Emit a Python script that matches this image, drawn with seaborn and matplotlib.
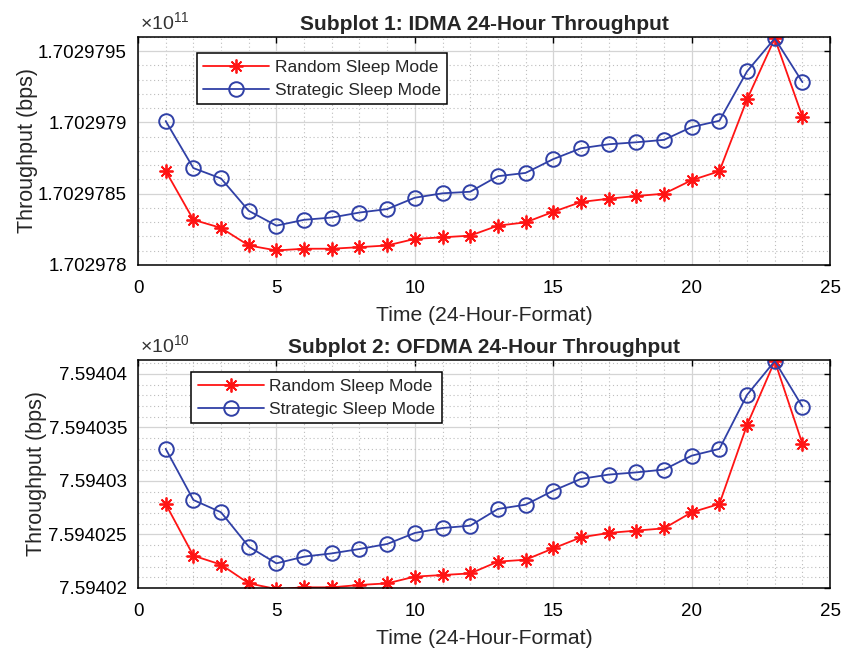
import matplotlib
matplotlib.use("Agg")
import matplotlib.pyplot as plt
from matplotlib.ticker import MultipleLocator, AutoMinorLocator, FuncFormatter
import seaborn as sns
import pandas as pd

# Hour of the day (1..24)
hours = list(range(1, 25))

# IDMA throughput (bps)
idma_random = [1.70297866e11, 1.702978317e11, 1.70297826e11, 1.702978137e11, 1.702978102e11,
               1.702978114e11, 1.702978114e11, 1.702978125e11, 1.702978137e11, 1.702978183e11,
               1.702978194e11, 1.702978206e11, 1.702978276e11, 1.702978299e11, 1.702978373e11,
               1.702978442e11, 1.702978465e11, 1.702978484e11, 1.7029785e11, 1.702978595e11,
               1.702978658e11, 1.702979162e11, 1.70297959e11, 1.70297904e11]
idma_strategic = [1.70297901e11, 1.70297868e11, 1.702978607e11, 1.70297838e11, 1.702978276e11,
                  1.702978317e11, 1.702978333e11, 1.702978368e11, 1.702978392e11, 1.702978472e11,
                  1.702978503e11, 1.702978514e11, 1.702978623e11, 1.702978646e11, 1.702978743e11,
                  1.702978819e11, 1.702978847e11, 1.702978861e11, 1.702978878e11, 1.702978968e11,
                  1.702979012e11, 1.702979359e11, 1.70297959e11, 1.702979283e11]

# OFDMA throughput (bps)
ofdma_random = [7.59402785e10, 7.59402302e10, 7.59402218e10, 7.59402043e10, 7.5940199e10,
                7.59402006e10, 7.59402006e10, 7.59402028e10, 7.59402043e10, 7.59402106e10,
                7.59402121e10, 7.59402136e10, 7.59402246e10, 7.59402264e10, 7.5940237e10,
                7.59402473e10, 7.59402514e10, 7.59402536e10, 7.59402557e10, 7.59402707e10,
                7.59402785e10, 7.59403523e10, 7.5940412e10, 7.59403346e10]
ofdma_strategic = [7.594033e10, 7.59402822e10, 7.59402707e10, 7.59402386e10, 7.5940223e10,
                   7.59402293e10, 7.59402323e10, 7.59402364e10, 7.59402411e10, 7.59402514e10,
                   7.5940256e10, 7.59402582e10, 7.59402738e10, 7.59402778e10, 7.59402909e10,
                   7.59403019e10, 7.59403059e10, 7.5940308e10, 7.59403106e10, 7.59403236e10,
                   7.59403299e10, 7.59403804e10, 7.5940412e10, 7.59403694e10]

series_names = ["Random Sleep Mode", "Strategic Sleep Mode"]
titles = ["Subplot 1: IDMA 24-Hour Throughput", "Subplot 2: OFDMA 24-Hour Throughput"]
exponents = [11, 10]
y_limits = [(1.702978e11, 1.7029796e11), (7.59402e10, 7.5940413e10)]

sns.set_theme(style="white")
plt.rcParams["font.family"] = ["Liberation Sans", "DejaVu Sans"]
plt.rcParams["mathtext.fontset"] = "custom"
plt.rcParams["mathtext.rm"] = "Liberation Sans"

RED = "#ff1414"
BLUE = "#3040a6"
STAR = (8, 2, 0)

fig = plt.figure(figsize=(8.42, 6.52), dpi=100)
ax_top = fig.add_axes([0.1639, 0.5936, 0.822, 0.3497])
ax_bot = fig.add_axes([0.1639, 0.0982, 0.822, 0.3497])

datasets = [(idma_random, idma_strategic), (ofdma_random, ofdma_strategic)]
legend_anchor = [(0.085, 0.93), (0.077, 0.947)]
ylabel_pad = [0, 1]

for i, (ax, (rnd, strat)) in enumerate(zip([ax_top, ax_bot], datasets)):
    df = pd.DataFrame({"hour": hours, series_names[0]: rnd, series_names[1]: strat})
    sns.lineplot(data=df, x="hour", y=series_names[0], ax=ax, color=RED, lw=1.3,
                 marker=STAR, markersize=10, markeredgewidth=1.3,
                 markeredgecolor=RED, label=series_names[0])
    sns.lineplot(data=df, x="hour", y=series_names[1], ax=ax, color=BLUE, lw=1.3,
                 marker="o", markersize=10.5, markerfacecolor="none",
                 markeredgewidth=1.4, markeredgecolor=BLUE, label=series_names[1])

    ax.set_xlim(0, 25)
    ax.set_ylim(*y_limits[i])
    ax.xaxis.set_major_locator(MultipleLocator(5))
    ax.xaxis.set_minor_locator(MultipleLocator(1))
    ax.yaxis.set_major_locator(MultipleLocator(5e4))
    ax.yaxis.set_minor_locator(AutoMinorLocator(5))
    scale = 10.0 ** exponents[i]
    ax.yaxis.set_major_formatter(FuncFormatter(lambda v, p, s=scale: f"{v / s:.8g}"))

    ax.grid(True, which="major", color="#d4d4d4", lw=0.9, ls="-")
    ax.grid(True, which="minor", color="#bdbdbd", lw=0.8, ls=(0, (1, 2.5)))
    ax.set_axisbelow(True)
    ax.tick_params(which="major", direction="in", length=4, width=1,
                   top=True, right=True, labelsize=13.5, colors="black")
    ax.tick_params(axis="y", which="major", pad=8)
    ax.tick_params(axis="x", which="major", pad=11)
    ax.tick_params(which="minor", length=0)
    for sp in ax.spines.values():
        sp.set_color("black")
        sp.set_linewidth(1.1)

    ax.set_title(titles[i], fontsize=15, fontweight="bold", pad=5)
    ax.set_xlabel("Time (24-Hour-Format)", fontsize=15.2, labelpad=6)
    ax.set_ylabel("Throughput (bps)", fontsize=15.5, labelpad=ylabel_pad[i])
    ax.text(0.003, 1.015, r"$\times\mathregular{10^{%d}}$" % exponents[i],
            transform=ax.transAxes, ha="left", va="bottom", fontsize=14, color="#333333")

    leg = ax.legend(loc="upper left", bbox_to_anchor=legend_anchor[i], borderaxespad=0,
                    fontsize=12.5, handlelength=3.8, handletextpad=0.3, labelspacing=0.45,
                    borderpad=0.38, fancybox=False, framealpha=1, edgecolor="black")
    leg.get_frame().set_linewidth(1.1)

fig.savefig("out.png", dpi=100)
